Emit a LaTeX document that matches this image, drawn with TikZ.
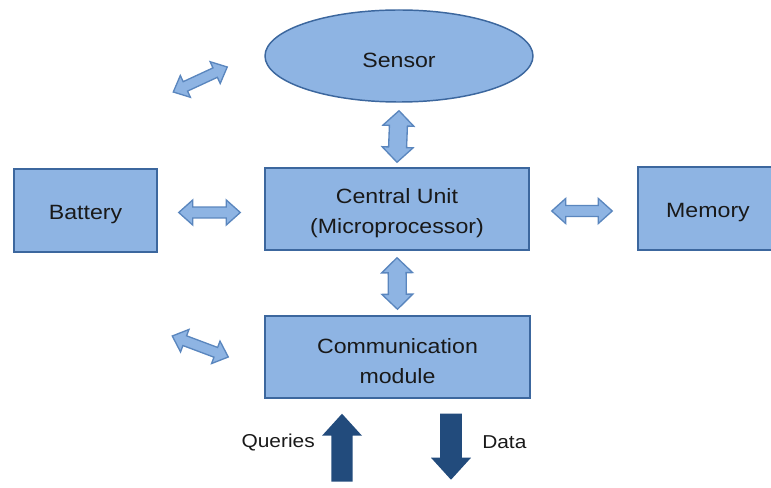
\documentclass[tikz,border=0pt]{standalone}
\usepackage{fontspec}
\setmainfont[FakeStretch=1.12]{Liberation Sans}
\usetikzlibrary{calc,shapes.geometric}
\definecolor{boxfill}{HTML}{8EB4E3}
\definecolor{boxline}{HTML}{3C679E}
\definecolor{arrowline}{HTML}{5A86BE}
\definecolor{darkarrow}{HTML}{224B7C}

% two-headed block arrow: [style]{from}{to}{half head width}{half shaft width}{head length}
\newcommand\twowayarrow[6][]{%
  \path (#2) coordinate (tw-s) (#3) coordinate (tw-e);
  \path ($(tw-s)!#6!(tw-e)$) coordinate (tw-a) ($(tw-e)!#6!(tw-s)$) coordinate (tw-b);
  \draw[#1] (tw-s) -- ($(tw-a)!#4!90:(tw-e)$) -- ($(tw-a)!#5!90:(tw-e)$)
    -- ($(tw-b)!#5!-90:(tw-s)$) -- ($(tw-b)!#4!-90:(tw-s)$) -- (tw-e)
    -- ($(tw-b)!#4!90:(tw-s)$) -- ($(tw-b)!#5!90:(tw-s)$)
    -- ($(tw-a)!#5!-90:(tw-e)$) -- ($(tw-a)!#4!-90:(tw-e)$) -- cycle;
}
% one-headed block arrow: [style]{tail}{tip}{half head width}{half shaft width}{head length}
\newcommand\onewayarrow[6][]{%
  \path (#2) coordinate (ow-s) (#3) coordinate (ow-e);
  \path ($(ow-e)!#6!(ow-s)$) coordinate (ow-b);
  \draw[#1] ($(ow-s)!#5!90:(ow-e)$) -- ($(ow-b)!#5!-90:(ow-s)$) -- ($(ow-b)!#4!-90:(ow-s)$)
    -- (ow-e) -- ($(ow-b)!#4!90:(ow-s)$) -- ($(ow-b)!#5!90:(ow-s)$)
    -- ($(ow-s)!#5!-90:(ow-e)$) -- cycle;
}

\begin{document}
\begin{tikzpicture}[x=0.75pt,y=-0.75pt,
  unit/.style={draw=boxline, fill=boxfill, line width=1.1pt, inner sep=0pt,
    text=black!90, font=\fontsize{15.5}{22.5}\selectfont, align=center,
    execute at begin node={\rule{0pt}{16.8pt}}},
  box/.style={unit, rectangle},
  twolines/.style={execute at begin node={\rule{0pt}{39.5pt}}},
  linkarrow/.style={draw=arrowline, fill=boxfill, line width=1pt, line join=miter},
  flowarrow/.style={draw=none, fill=darkarrow},
  flowlabel/.style={text=black!90, font=\fontsize{14}{16}\selectfont, inner sep=0pt}]
\useasboundingbox (0,0) rectangle (771,488);
\clip (0,0) rectangle (771,488);

% blocks
\node[unit, ellipse, minimum width=201pt, minimum height=69pt] (sensor) at (399,56) {Sensor};
\node[box, twolines, minimum width=198pt, minimum height=61.5pt] (cu) at (397,209) {Central Unit\\(Microprocessor)};
\node[box, minimum width=107.25pt, minimum height=62.25pt] (battery) at (85.5,210.5) {Battery};
\node[box, minimum width=105pt, minimum height=62.25pt] (memory) at (708,208.5) {Memory};
\node[box, twolines, minimum width=198.75pt, minimum height=61.5pt] (comm) at (397.5,357) {Communication\\module};

% links between blocks
\twowayarrow[linkarrow]{$(sensor.south)+(0,8)$}{$(cu.north)+(0,-5)$}{11.6pt}{6.75pt}{11.25pt}
\twowayarrow[linkarrow]{$(cu.south)+(0,7)$}{$(comm.north)+(0,-6)$}{11.6pt}{6.75pt}{11.25pt}
\twowayarrow[linkarrow]{$(battery.east)+(21,2)$}{$(cu.west)+(-24,3.5)$}{9.4pt}{4.1pt}{10.5pt}
\twowayarrow[linkarrow]{$(cu.east)+(22,2)$}{$(memory.west)+(-25,2.5)$}{9.4pt}{4.1pt}{10.5pt}
\twowayarrow[linkarrow]{$(sensor.west)+(-91,36)$}{$(sensor.west)+(-37,11)$}{9pt}{3.9pt}{10pt}
\twowayarrow[linkarrow]{$(comm.west)+(-92,-21)$}{$(comm.west)+(-36,0)$}{9pt}{3.9pt}{10pt}

% external traffic of the communication module
\coordinate (qtail) at ($(comm.south)+(-55.5,83)$);
\coordinate (dtail) at ($(comm.south)+(53.5,15)$);
\onewayarrow[flowarrow]{qtail}{$(comm.south)+(-55.5,15)$}{15pt}{7.9pt}{16.5pt}
\onewayarrow[flowarrow]{dtail}{$(comm.south)+(53.5,81)$}{15pt}{8.2pt}{16.5pt}
\node[flowlabel, anchor=east] (queries) at (315,442) {Queries};
\node[flowlabel, anchor=west] (data) at (482,442) {Data};
\end{tikzpicture}
\end{document}
